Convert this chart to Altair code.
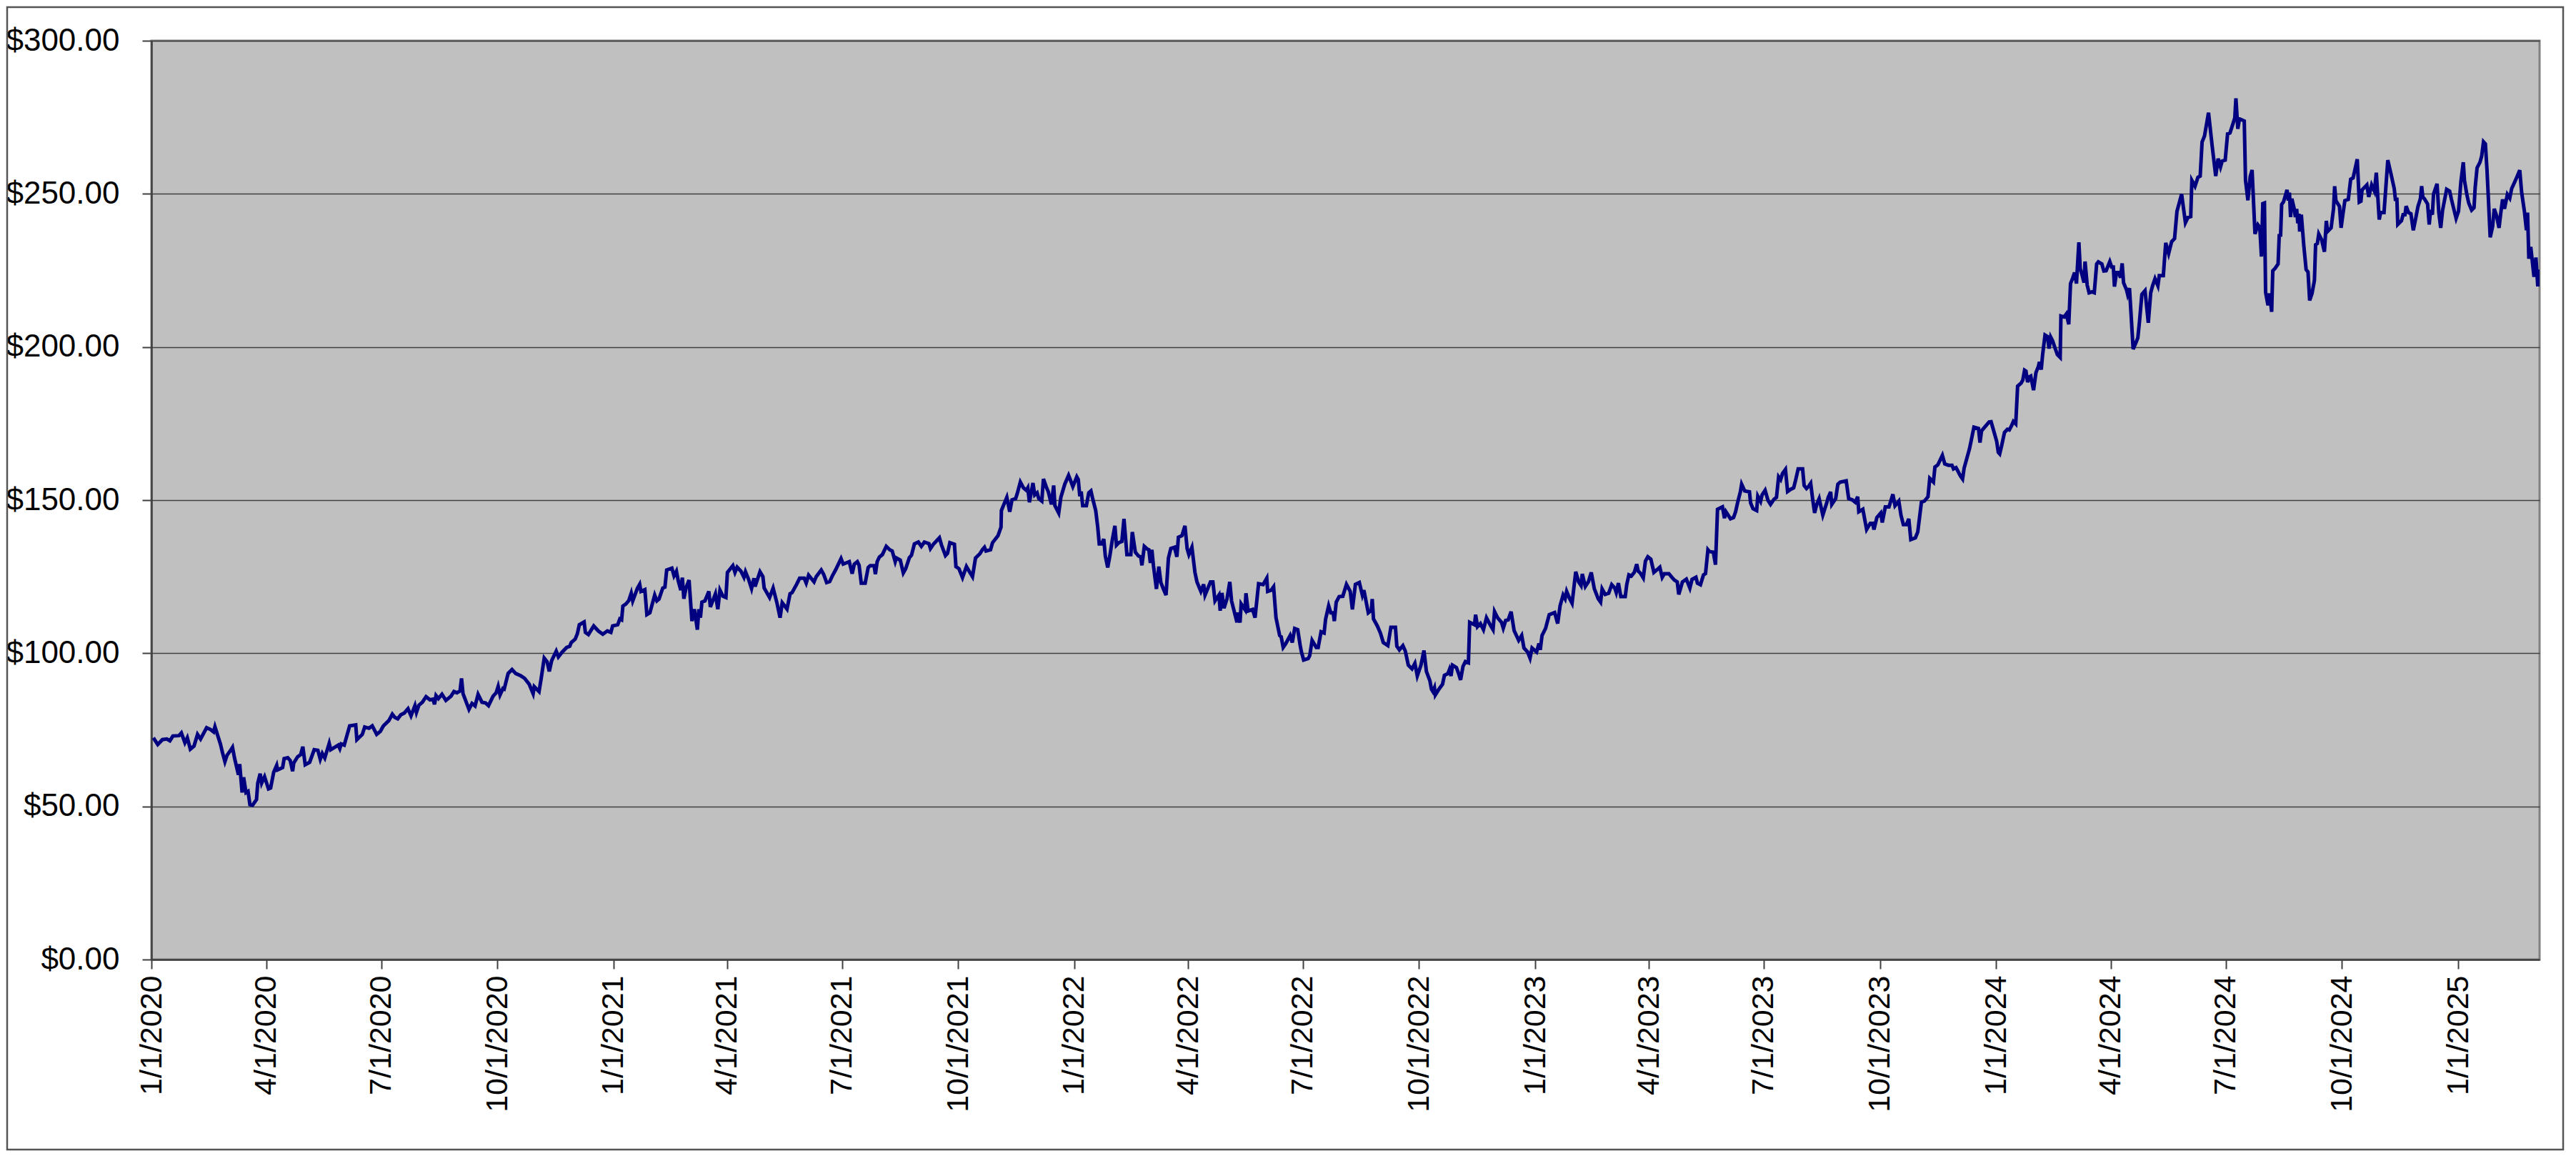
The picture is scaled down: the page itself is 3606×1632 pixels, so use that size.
import altair as alt
import pandas as pd

# ---- data: day offset from 1/1/2020 and price ----
days_2020 = [1.5, 5, 8.7, 12.2, 14.6, 17, 21.8, 23.7, 26.5, 28.4, 30.8, 33.7, 36.5, 38.9, 43.7, 46.8, 49.2, 50.3,
             54.6, 56.3, 58.2, 59.9, 62.7, 64.2, 65.8, 68.9, 69.9, 71.8, 73, 74.9, 76.5, 78, 80.1, 83.2, 84.2, 86.1,
             87.3, 89.6, 92.7, 94.4, 96.8, 99.2, 99.9, 103.9, 105.1, 108, 109.9, 111.8, 112.7, 115.8, 118.2, 119.9,
             121.8, 125.3, 128.9, 131.8, 133.7, 135.3, 137.3, 140.8, 142, 148, 149.2, 150.3, 152.7, 157, 161.8,
             162.7, 167, 168.9, 172.3, 174.9, 178.4, 181.3, 183.7, 188, 190.8, 192.7, 195.1, 197.5, 200.3, 203.2,
             205.6, 208.7, 209.9, 211.8, 214.6, 217.5, 220.6, 223, 224.2, 225.4, 227.3, 230.1, 233.2, 237.3, 239.6,
             242, 244.4, 245.6, 246.8, 251.5, 253.9, 256.3, 258.7, 261.8, 264.6, 267, 270.6, 273, 274.6, 276.1,
             278.4, 279.4, 282.5, 285.6, 288.5, 292.7, 295.6, 299.2, 300.4, 302.3, 303.2, 307, 308.7, 311.1, 313.4,
             315.1, 317, 320.6, 322.3, 325.3, 328.9, 331.3, 332.5, 335.6, 337.3, 338.9, 342.7, 343.7, 346.1, 350.3,
             353.9, 357.5, 361.1]
price_2020 = [72.4, 70.2, 71.8, 72.0, 71.4, 73.0, 73.1, 74.0, 70.8, 72.4, 68.7, 69.7, 73.5, 72.0, 75.7, 75.1, 74.3, 76.0,
              70.4, 67.5, 64.6, 66.7, 68.3, 69.3, 65.8, 60.3, 63.8, 54.5, 59.5, 54.5, 54.9, 50.6, 50.4, 52.2, 57.6, 60.7,
              57.6, 59.7, 55.7, 56.0, 61.1, 63.4, 61.9, 62.7, 65.6, 65.9, 65.0, 61.5, 64.2, 66.2, 66.9, 69.5,
              63.6, 64.4, 68.5, 68.3, 65.4, 67.3, 65.8, 70.6, 68.5, 70.0, 68.9, 70.4, 70.0, 76.3, 76.6,
              71.8, 73.5, 75.9, 75.5, 76.3, 73.5, 74.5, 76.3, 78.0, 80.1, 79.1, 78.6, 79.9, 80.5, 81.9,
              79.6, 82.9, 80.7, 83.0, 84.0, 85.8, 84.8, 85.0, 83.3, 86.2, 85.2, 86.6, 84.6, 86.0, 87.5,
              87.1, 87.7, 91.8, 86.8, 81.7, 83.6, 82.8, 86.6, 84.0, 83.8, 82.9, 86.0, 87.1, 89.2, 86.4,
              88.5, 88.3, 93.4, 94.7, 93.4, 92.6, 91.8, 89.9, 88.7, 86.8, 89.1, 87.5, 91.8, 98.4, 97.2,
              94.1, 97.6, 100.7, 98.8, 100.4, 101.9, 102.3, 103.5, 104.6, 106.3, 109.3, 110.2, 106.8, 106.1, 108.9,
              107.3, 106.2, 107.3]

days_2021 = [362.2, 363.9, 365.3, 369.3, 371, 372.4, 373.4, 375.8, 378.1, 380, 381.2, 384.8, 386.7, 387.7, 390.8, 392.4,
             394.8, 398.6, 400.3, 402, 405, 406.7, 408.1, 412.2, 413.9, 415.8, 417.2, 419.3, 420.5, 421.7, 423.4,
             425.8, 428.1, 430, 432.4, 433.6, 434.8, 436, 438.4, 441.5, 442.7, 446.7, 448.6, 450.3, 452.7, 455,
             456.2, 460.5, 462.2, 463.9, 466.9, 469.3, 470.5, 472.9, 475.3, 477.2, 478.1, 482, 484.3, 485.3, 489.6,
             492.4, 495.5, 497.9, 499.6, 503.4, 505.8, 507.4, 511, 513.4, 517, 518.6, 520.5, 524.8, 526.5, 530.5,
             532.4, 534.8, 537.2, 539.6, 542, 546.2, 547.9, 551.5, 552.7, 555, 556.7, 559.1, 560.5, 562.2, 565.3,
             567.7, 569.3, 572.4, 573.4, 574.8, 576.5, 578.9, 582, 584.8, 586.7, 589.1, 590, 593.1, 595.5, 597.4,
             600.3, 602, 604.3, 607.4, 609.8, 612.2, 615.8, 617, 619.3, 624.1, 625.8, 628.9, 630.5, 632.4, 636,
             637.2, 639.6, 642.4, 645.5, 647.9, 650.3, 652.7, 656.2, 658.1, 659.8, 661, 664.6, 666.2, 670.5, 672.9,
             673.2, 677.5, 679.8, 681.6, 684.5, 685.8, 688.2, 690.7, 693, 694.1, 695.4, 698.2, 699.6, 701.5, 702.8,
             705.2, 706.5, 709, 710.3, 712.8, 714.6, 715.6]
price_2021 = [107.1, 106.8, 108.9, 109.3, 111.2, 110.9, 115.4, 116.1, 117.2, 119.6, 117.1, 121.1, 122.5, 120.2, 120.8, 112.6,
              113.2, 119.0, 117.1, 117.7, 121.3, 121.6, 127.2, 127.8, 125.3, 126.8, 123.7, 120.6, 124.7, 117.8, 121.3,
              123.9, 110.5, 114.4, 107.7, 114.4, 111.6, 116.7, 117.1, 120.2, 115.1, 119.4, 114.4, 120.6, 118.6, 118.2,
              126.4, 128.6, 126.4, 128.1, 126.8, 124.8, 126.6, 124.2, 121.1, 124.5, 121.8, 126.6, 125.0, 121.3, 118.2,
              121.3, 116.3, 111.6, 116.5, 114.4, 119.4, 119.8, 122.5, 124.5, 124.5, 122.9, 125.5, 123.3, 125.0, 127.2,
              125.8, 123.1, 123.4, 125.5, 127.3, 130.9, 129.1, 129.7, 129.9, 126.0, 129.1, 129.9, 128.7, 122.9, 122.9,
              128.0, 128.6, 128.6, 125.8, 129.9, 131.4, 132.2, 134.9, 133.8, 133.4, 129.9, 131.1, 130.4, 126.2, 127.6,
              131.2, 132.0, 135.7, 136.3, 134.9, 136.3, 135.8, 134.2, 135.6, 137.7, 135.3, 131.9, 132.6, 136.1, 135.6,
              128.3, 127.6, 124.7, 128.3, 126.6, 125.0, 131.1, 132.5, 133.8, 134.6, 133.4, 133.8, 136.1, 138.4, 141.2,
              146.6, 150.9, 146.2, 150.1, 150.5, 152.2, 155.9, 154.0, 153.2, 154.0, 149.3, 155.6, 151.7, 152.4, 150.5,
              149.7, 156.9, 154.0, 152.8, 148.6, 154.8, 148.2]

days_2022 = [718.6, 720.3, 723.4, 726.4, 728.1, 729.8, 732.9, 734.1, 735.3, 736.4, 737.6, 740.5, 742.4, 744.1, 745.5, 747.9,
             749.5, 750.7, 752.6, 754.3, 755.5, 757.4, 759.1, 761, 763.1, 764.3, 766.2, 768.6, 770.3, 772.6, 775.7,
             776.9, 779.3, 781.7, 783.6, 784.5, 786.4, 788.8, 790, 791.2, 792.4, 793.6, 796, 797.9, 799.5, 801.9,
             803.6, 805.5, 807.4, 810.3, 812.2, 813.4, 816.2, 818.6, 820.3, 821.7, 824.1, 826.5, 828.1, 831.2, 833.4,
             834.5, 838.8, 840.7, 842.4, 845.5, 846.5, 847.9, 849.5, 851.9, 854.1, 855.5, 859.8, 860.7, 862.2, 863.1,
             866.2, 866.9, 868.6, 872.2, 874.1, 876.9, 880.5, 883.4, 884.1, 886.9, 888.8, 890.7, 893.6, 894.8, 896.4,
             898.4, 901.9, 903.6, 905.5, 907.9, 909.8, 910.7, 912.6, 916.2, 917.4, 919.3, 922.6, 924.1, 926.4, 928.8,
             930, 932.4, 934.1, 936, 936.9, 938.4, 940.7, 943.6, 946.5, 949.5, 951.2, 953.6, 956.7, 959.1, 960.3,
             963.8, 966.2, 966.9, 967.9, 971, 973.4, 975.7, 979.3, 981.7, 985.3, 986.4, 988.4, 991.2, 993.1, 995.5,
             998.4, 1000.7, 1002.6, 1005.5, 1007.9, 1009.8, 1012.6, 1013.8, 1015, 1016.2, 1016.9, 1019.8, 1022.6,
             1024.1, 1026.9, 1028.1, 1029.3, 1030.5, 1033.6, 1035.3, 1036.9, 1038.8, 1040.7, 1043.1, 1044.1, 1047.9,
             1048.8, 1050.3, 1052.6, 1055, 1057.4, 1060.3, 1062.6, 1063.8, 1066.2, 1069.3, 1070.7, 1072.6, 1074.6,
             1076.9, 1079.3, 1082.9, 1085.3]
price_2022 = [145.8, 150.9, 155.2, 158.1, 156.3, 154.4, 157.6, 156.7, 151.3, 152.8, 148.2, 148.2, 152.4, 153.0, 150.5, 146.6,
              141.2, 135.7, 135.7, 137.3, 131.8, 128.0, 131.8, 136.9, 141.6, 135.3, 136.1, 136.5, 143.9, 132.2, 132.2,
              139.6, 133.0, 131.8, 131.4, 128.7, 134.9, 134.0, 133.8, 129.5, 133.8, 128.7, 121.0, 128.3, 123.1, 120.6,
              119.0, 131.1, 134.2, 134.6, 131.5, 137.9, 138.4, 141.6, 134.2, 132.2, 134.6, 126.4, 123.3, 120.2, 122.5,
              119.0, 123.3, 123.3, 117.1, 119.0, 113.9, 119.7, 114.7, 117.8, 123.3, 117.1, 110.1, 113.3, 110.0, 116.1,
              114.2, 119.6, 113.8, 114.3, 111.6, 122.7, 122.4, 124.5, 120.2, 120.6, 121.7, 111.6, 105.8, 105.4, 101.9,
              103.1, 105.8, 103.5, 108.1, 107.7, 102.7, 100.7, 97.8, 98.3, 99.2, 104.2, 101.9, 101.9, 107.0, 106.6,
              111.2, 115.5, 113.2, 113.2, 110.5, 116.7, 118.5, 118.6, 122.5, 120.2, 114.3, 122.5, 123.1, 119.0, 120.6,
              113.2, 114.0, 117.7, 111.2, 108.9, 106.6, 103.5, 102.5, 108.5, 108.5, 102.3, 101.1, 102.5, 100.7, 96.1,
              94.9, 96.7, 92.6, 96.1, 100.9, 94.1, 91.0, 88.3, 87.5, 88.7, 86.4, 88.3, 89.9,
              92.8, 93.4, 94.7, 92.6, 96.1, 95.3, 93.4, 91.3, 95.7, 97.3, 96.9, 110.1, 109.3,
              112.6, 108.7, 109.7, 107.7, 111.6, 109.3, 107.7, 113.6, 111.6, 110.1, 108.2, 110.7, 110.9,
              113.6, 107.4, 104.2, 105.8]

days_2023 = [1087.1, 1090, 1091.9, 1093.5, 1097.1, 1099, 1100, 1101.4, 1104.2, 1107.1, 1111.4, 1113.8, 1115.7, 1118.1,
             1119.7, 1120.9, 1123.3, 1125.2, 1128.1, 1130.4, 1132.3, 1133.3, 1135.7, 1138.1, 1140.4, 1142.8, 1145.9,
             1147.8, 1149, 1151.4, 1154.2, 1156.6, 1159, 1160.2, 1161.9, 1163.8, 1167.3, 1168.5, 1170.2, 1172.1,
             1174.5, 1176.4, 1177.6, 1179.2, 1181.6, 1183.3, 1185.2, 1187.6, 1190, 1192.3, 1194.7, 1196.6, 1198.3,
             1201.9, 1204.3, 1206.2, 1208.5, 1209.7, 1212.6, 1215.7, 1218.5, 1220.2, 1223.3, 1224.5, 1226.9, 1229.3,
             1230.9, 1232.8, 1234, 1237.1, 1238.8, 1240.4, 1244.3, 1245.9, 1247.1, 1250.7, 1253.1, 1254.7, 1256.6,
             1258.5, 1259.5, 1261.9, 1265.7, 1266.6, 1268.5, 1271.4, 1272.3, 1274.5, 1275.7, 1278.1, 1280.4, 1282.4,
             1285.2, 1287.1, 1288.8, 1290.4, 1291.9, 1294.2, 1295.9, 1298.3, 1300.7, 1301.9, 1304.3, 1307.8, 1309,
             1310.9, 1312.6, 1314.2, 1315.7, 1317.3, 1319, 1320.9, 1323.8, 1326.9, 1328.1, 1330, 1330.9, 1334,
             1335.7, 1337.6, 1342.3, 1344.3, 1347.1, 1349.5, 1351.4, 1352.3, 1355.5, 1358.5, 1361.4, 1363.3, 1364.3,
             1366.6, 1369.7, 1370.9, 1373.3, 1376.2, 1379.3, 1381, 1384, 1385.7, 1387.6, 1390, 1391.9, 1393.5,
             1397.1, 1399, 1401.9, 1404.3, 1407.1, 1408.5, 1411.4, 1412.6, 1414.9, 1418.5, 1420.4, 1423.3, 1426.1,
             1427.3, 1429.3, 1430.4, 1432.8, 1434.5, 1435.7, 1440, 1443.5, 1447.1, 1448.3, 1449.5, 1455.5]
price_2023 = [101.7, 100.4, 98.4, 101.7, 100.4, 103.2, 101.1, 105.8, 108.1, 112.6, 113.3, 109.7, 115.5, 119.0,
              117.8, 120.2, 117.8, 116.3, 126.6, 123.3, 122.1, 125.9, 121.8, 123.3, 126.4, 121.1, 117.8,
              116.7, 121.0, 119.2, 119.6, 122.4, 121.3, 119.8, 122.9, 118.5, 118.5, 122.4, 125.6, 125.2,
              126.4, 129.1, 126.8, 126.2, 124.6, 130.1, 131.5, 130.7, 126.4, 127.2, 128.1, 124.8, 126.0,
              126.0, 124.8, 123.9, 123.3, 119.2, 123.3, 124.2, 121.3, 124.1, 124.8, 122.9, 122.4, 125.6,
              126.0, 133.8, 133.2, 133.0, 128.9, 147.0, 147.8, 144.1, 146.2, 143.9, 144.3, 146.2, 149.7,
              152.7, 155.2, 153.0, 152.7, 149.1, 147.2, 146.6, 151.3, 149.6, 151.7, 153.2, 149.9, 148.6,
              150.3, 150.9, 157.6, 156.7, 158.7, 160.0, 152.8, 153.5, 154.0, 155.9, 160.2, 160.2, 154.8,
              153.8, 154.5, 155.5, 150.5, 145.8, 148.6, 150.5, 145.1, 149.1, 150.9, 152.7, 148.6, 150.5,
              155.2, 155.9, 156.3, 150.5, 150.1, 149.3, 151.1, 146.2, 147.0, 140.4, 142.4, 142.4, 140.4,
              144.3, 145.8, 142.7, 147.8, 147.8, 151.9, 148.2, 149.7, 145.1, 142.0, 142.0, 143.9, 137.1,
              137.7, 139.6, 149.3, 149.7, 151.1, 157.1, 155.9, 160.8, 161.5, 164.6, 161.8, 161.4, 161.4,
              160.2, 160.6, 159.8, 157.9, 156.9, 160.4, 166.8, 173.8, 173.4, 168.8, 172.6, 175.5]

days_2024 = [1457.1, 1459.6, 1461.5, 1462.8, 1463.9, 1465.3, 1467.7, 1470, 1471.5, 1473.4, 1474.7, 1476.6, 1478.1,
             1480.9, 1482.2, 1483.6, 1484.7, 1486, 1487.3, 1488.5, 1490.7, 1492.6, 1494.5, 1495.4, 1496.8, 1497.9,
             1499.8, 1501.7, 1503, 1504.3, 1505.8, 1507.7, 1509.6, 1511.8, 1512.4, 1514.9, 1516.7, 1518.6, 1520,
             1521.8, 1523.2, 1524.7, 1526.6, 1527.7, 1529.4, 1530.7, 1531.5, 1533.2, 1534.7, 1536.9, 1538.8, 1540.7,
             1542, 1544.8, 1546.4, 1548.2, 1551.1, 1552.6, 1553.9, 1554.8, 1556.4, 1558.2, 1559.6, 1560.9, 1562,
             1564.3, 1565.2, 1566.7, 1568, 1569.6, 1571.4, 1573.3, 1574.6, 1576.5, 1579, 1581.6, 1583.5, 1585,
             1586.9, 1589.2, 1590.3, 1593.5, 1595.4, 1597.7, 1600.1, 1602.4, 1604.3, 1608, 1611, 1613, 1615.2,
             1616.1, 1618.6, 1620.9, 1622.7, 1624.2, 1626.1, 1629.3, 1632.2, 1635, 1636.9, 1638.8, 1640.1, 1642.5,
             1644.4, 1646.3, 1648.2, 1650.1, 1651, 1652.5, 1653.8, 1657.6, 1658.6, 1660.5, 1662.3, 1663.8, 1666.1,
             1668.4, 1669.9, 1671.2, 1672.3]
price_2024 = [175.6, 172.0, 169.2, 165.6, 165.1, 167.5, 172.1, 173.1, 172.9, 174.4, 175.7, 174.9, 187.2,
              188.2, 189.2, 192.4, 192.1, 188.5, 190.2, 190.5, 185.9, 191.6, 193.6, 195.1, 192.6, 197.5,
              203.9, 203.4, 199.5, 203.2, 202.0, 199.7, 197.5, 196.6, 210.1, 209.8, 210.8, 207.4, 220.7,
              222.6, 224.3, 220.7, 234.2, 225.6, 223.1, 221.0, 227.9, 220.2, 217.7, 218.0, 217.7, 227.1,
              227.8, 227.1, 224.8, 224.9, 227.9, 226.1, 226.1, 219.7, 224.3, 224.3, 222.6, 227.3, 221.0,
              218.7, 217.2, 219.2, 210.3, 199.3, 201.0, 203.0, 208.2, 217.2, 218.4, 207.9, 217.7, 220.0,
              222.3, 220.0, 223.3, 223.3, 234.0, 230.5, 234.4, 235.4, 244.3, 249.9, 240.6, 242.3, 242.6,
              254.4, 252.5, 255.4, 255.8, 266.9, 268.9, 276.5, 265.6, 255.8, 261.5, 258.8, 260.7, 261.0,
              269.6, 269.9, 272.3, 274.8, 281.2, 271.2, 274.5, 273.8, 254.4, 247.9, 255.6, 257.8, 236.9,
              239.9, 239.1, 229.5, 246.8]

days_2025 = [1673.6, 1674.5, 1676.4, 1677.7, 1679.3, 1680.2, 1682.1, 1684.4, 1685.3, 1686.4, 1687.2, 1688.7, 1691.5,
             1692.5, 1693.4, 1694.3, 1695.3, 1697.2, 1698.1, 1699.1, 1700, 1700.9, 1701.5, 1702.8, 1704.7, 1706.6,
             1708.1, 1709.4, 1711.3, 1713.2, 1714.1, 1715.5, 1716.6, 1718.9, 1721.1, 1722.6, 1723.6, 1726.4, 1728.3,
             1729.2, 1730.2, 1733, 1734.3, 1735.8, 1737.3, 1740, 1741.9, 1743.8, 1747.1, 1748.7, 1750, 1750.9,
             1754.7, 1756.2, 1758.5, 1760.7, 1762.2, 1764.5, 1765.6, 1768.3, 1771.3, 1773.6, 1776.4, 1777.3, 1778.5,
             1779.2, 1782.1, 1783.4, 1784.9, 1785.8, 1787.7, 1789.6, 1791.5, 1793.4, 1795.2, 1797.1, 1798.1, 1799,
             1800.3, 1802.8, 1804.1, 1805.2, 1806.6, 1807.5, 1810.3, 1811.7, 1813.2, 1814.7, 1817.9, 1820.3, 1821.7,
             1824.5, 1825.4, 1827.3, 1829.2, 1831.1, 1832, 1833.9, 1835.4, 1837.7, 1839.6, 1840.5, 1842, 1844.3,
             1845.6, 1847.1, 1848.6, 1849.9, 1850.9, 1852.4, 1854.3, 1855.6, 1857.5, 1859.4, 1860.7, 1862.2, 1863.7,
             1866, 1867.9, 1869.4, 1872.6, 1875.8, 1877.3, 1879.5, 1881.1, 1882, 1883, 1884.5, 1887.1, 1888.6,
             1890.1, 1891.4]
price_2025 = [247.0, 217.9, 213.6, 217.5, 211.5, 224.9, 225.7, 227.1, 236.4, 236.5, 246.5, 247.4, 251.3,
              247.8, 250.4, 242.4, 248.4, 245.1, 242.4, 245.1, 240.4, 243.5, 237.7, 243.2, 233.4, 225.3,
              224.5, 215.2, 217.5, 221.8, 233.4, 233.8, 236.9, 235.0, 231.1, 241.2, 237.7, 238.9, 245.1,
              252.5, 247.8, 245.9, 238.9, 243.5, 247.8, 248.2, 254.8, 255.2, 261.3, 247.3, 247.6, 251.3,
              252.9, 249.0, 252.9, 250.9, 256.9, 241.6, 243.9, 243.9, 261.0, 256.9, 251.7, 248.2, 248.2,
              240.0, 241.2, 243.2, 243.2, 246.0, 243.9, 243.5, 238.1, 242.0, 245.9, 248.4, 252.5, 249.0,
              248.4, 246.7, 240.0, 244.7, 243.2, 249.9, 253.3, 243.9, 238.9, 244.7, 251.5, 250.9, 248.2,
              243.5, 242.0, 244.3, 254.0, 260.3, 254.4, 249.8, 247.0, 244.7, 245.5, 252.1, 258.5, 260.3,
              262.2, 267.0, 266.3, 257.5, 249.0, 235.8, 239.3, 245.1, 242.8, 238.9, 243.5, 248.2, 245.1,
              249.8, 248.6, 251.7, 254.6, 257.7, 250.5, 244.3, 238.1, 243.9, 228.8, 232.7, 222.9, 229.2,
              219.8, 225.3]

y_ticks = [0, 50, 100, 150, 200, 250, 300]
x_tick_years_months = [(y, m) for y in range(2020, 2026) for m in (1, 4, 7, 10) if not (y == 2025 and m > 1)]

# ---- build table ----
DAY_MS = 86400000
EPOCH_2020 = 18262  # days from 1970-01-01 to 2020-01-01
all_days = days_2020 + days_2021 + days_2022 + days_2023 + days_2024 + days_2025
all_price = price_2020 + price_2021 + price_2022 + price_2023 + price_2024 + price_2025
df = pd.DataFrame({
    "date": [(EPOCH_2020 + d) * DAY_MS for d in all_days],
    "price": all_price,
    "order": list(range(len(all_days))),
})

PW, PH = 3343, 1286
PAD_L, PAD_T, PAD_R, PAD_B = 204, 49, 35, 268
FONT = "Liberation Sans"

x_values = [alt.DateTime(year=y, month=m, date=1, utc=True) for (y, m) in x_tick_years_months]

line = alt.Chart(df).mark_line(color="#000080", strokeWidth=5, clip=True).encode(
    x=alt.X("date:T",
            scale=alt.Scale(type="utc",
                            domain=[EPOCH_2020 * DAY_MS, (EPOCH_2020 + 1891.5) * DAY_MS]),
            axis=alt.Axis(values=x_values,
                          labelExpr="utcFormat(datum.value, '%-m/%-d/%Y')",
                          labelAngle=270, grid=False, tickSize=13, tickWidth=2,
                          tickColor="#404040", labelPadding=9, labelFontSize=43,
                          labelFont=FONT, labelColor="#000000", domainColor="#404040",
                          domainWidth=2.5, title=None, labelOverlap=False, labelLimit=0)),
    y=alt.Y("price:Q",
            scale=alt.Scale(domain=[0, 300], nice=False, zero=True),
            axis=alt.Axis(values=y_ticks, format="$.2f", grid=True, gridColor="#404040",
                          gridWidth=1.5, tickSize=13, tickWidth=2, tickColor="#404040",
                          labelPadding=32, labelFontSize=44, labelFont=FONT,
                          labelColor="#000000", domainColor="#404040", domainWidth=2.5,
                          title=None, labelLimit=0)),
    order="order:Q",
)

frame = alt.Chart(pd.DataFrame({"k": [0]})).mark_rect(
    fillOpacity=0, stroke="#555555", strokeWidth=2.5
).encode(
    x=alt.value(-PAD_L + 2),
    x2=alt.value(PW + PAD_R - 2),
    y=alt.value(-PAD_T + 2),
    y2=alt.value(PH + PAD_B - 2),
)

chart = alt.layer(line, frame).properties(
    width=PW, height=PH,
    autosize=alt.AutoSizeParams(type="none"),
    padding={"left": PAD_L, "top": PAD_T, "right": PAD_R, "bottom": PAD_B},
    background="#FFFFFF",
).configure_view(
    fill="#C0C0C0", stroke="#808080", strokeWidth=3
)

chart.save("out.html", embed_options={"renderer": "svg", "actions": False})
